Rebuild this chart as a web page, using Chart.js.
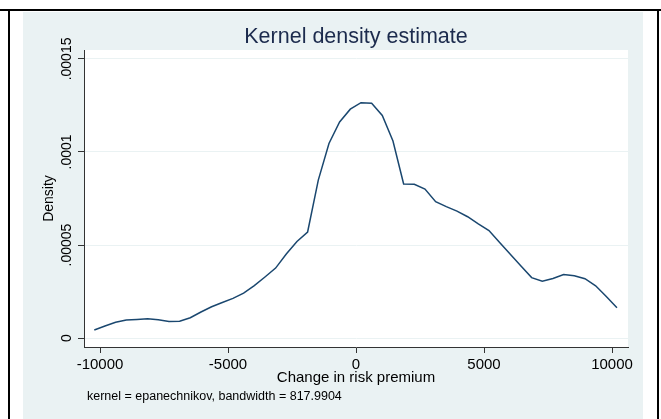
<!DOCTYPE html>
<html>
<head>
<meta charset="utf-8">
<title>Kernel density estimate</title>
<script src="https://cdn.jsdelivr.net/npm/chart.js@4.4.1/dist/chart.umd.min.js"></script>
<style>
  html, body { margin: 0; padding: 0; background: #ffffff; }
  canvas { display: block; }
</style>
</head>
<body>
<canvas id="myChart" width="661" height="419"></canvas>
<script>
// evaluation points of the density (x) and estimated density (y)
var premiumChange = [
  -10223, -9806, -9390, -8973, -8556, -8140, -7723, -7306, -6890, -6473,
  -6056, -5640, -5223, -4806, -4390, -3973, -3556, -3140, -2723, -2306,
  -1890, -1473, -1056, -640, -223, 194, 611, 1027, 1444, 1861,
  2277, 2694, 3111, 3527, 3944, 4361, 4777, 5194, 5611, 6027,
  6444, 6861, 7277, 7694, 8111, 8527, 8944, 9361, 9777, 10194
];
var density = [
  0.0000043, 0.0000065, 0.0000085, 0.0000097, 0.0000100, 0.0000104, 0.0000098, 0.0000089, 0.0000091, 0.0000109,
  0.0000140, 0.0000168, 0.0000191, 0.0000213, 0.0000241, 0.0000282, 0.0000328, 0.0000376, 0.0000452, 0.0000519,
  0.0000570, 0.0000849, 0.0001046, 0.0001161, 0.0001230, 0.0001265, 0.0001262, 0.0001196, 0.0001059, 0.0000828,
  0.0000826, 0.0000801, 0.0000733, 0.0000706, 0.0000682, 0.0000652, 0.0000613, 0.0000578, 0.0000513, 0.0000450,
  0.0000387, 0.0000325, 0.0000306, 0.0000320, 0.0000342, 0.0000335, 0.0000319, 0.0000281, 0.0000223, 0.0000163
];

var xTicks = [-10000, -5000, 0, 5000, 10000];
var xTickLabels = ["-10000", "-5000", "0", "5000", "10000"];
var yTicks = [0, 0.00005, 0.0001, 0.00015];
var yTickLabels = ["0", ".00005", ".0001", ".00015"];

var chartTitle = "Kernel density estimate";
var xTitle = "Change in risk premium";
var yTitle = "Density";
var noteText = "kernel = epanechnikov, bandwidth = 817.9904";

var fontFamily = "'Liberation Sans', Arial, Helvetica, sans-serif";

var points = [];
for (var i = 0; i < premiumChange.length; i++) {
  points.push({ x: premiumChange[i], y: density[i] });
}

// stata style frame, panel and plot region
var backgroundPlugin = {
  id: "stataBackground",
  beforeDraw: function(chart) {
    var c = chart.ctx, area = chart.chartArea;
    c.save();
    c.fillStyle = "#ffffff";
    c.fillRect(0, 0, chart.width, chart.height);
    c.fillStyle = "#eaf2f3";
    c.fillRect(23, 12, 620, chart.height - 12);
    c.fillStyle = "#ffffff";
    c.fillRect(area.left, area.top, area.right - area.left, area.bottom - area.top);
    // black border lines
    c.fillStyle = "#000000";
    c.fillRect(0, 9, chart.width, 2);
    c.fillRect(8, 9, 2, chart.height - 9);
    c.fillRect(657, 9, 2, chart.height - 9);
    c.restore();
  },
  afterDraw: function(chart) {
    var c = chart.ctx, area = chart.chartArea;
    var yScale = chart.scales.y;
    var midX = (area.left + area.right) / 2;
    c.save();
    // vertical y tick labels
    c.fillStyle = "#000000";
    c.font = "14px " + fontFamily;
    c.textAlign = "center";
    c.textBaseline = "middle";
    for (var i = 0; i < yTicks.length; i++) {
      var py = yScale.getPixelForValue(yTicks[i]);
      c.save();
      c.translate(67, py);
      c.rotate(-Math.PI / 2);
      c.fillText(yTickLabels[i], 0, 0);
      c.restore();
    }
    // y axis title
    c.save();
    c.translate(49, (area.top + area.bottom) / 2);
    c.rotate(-Math.PI / 2);
    c.fillText(yTitle, 0, 0);
    c.restore();
    // main title
    c.textBaseline = "alphabetic";
    c.fillStyle = "#1c2b4d";
    c.font = "21.5px " + fontFamily;
    c.fillText(chartTitle, midX, 43);
    // x axis title
    c.fillStyle = "#000000";
    c.font = "15px " + fontFamily;
    c.fillText(xTitle, midX, 382);
    // note
    c.textAlign = "left";
    c.font = "12.5px " + fontFamily;
    c.fillText(noteText, 87, 400);
    c.restore();
  }
};

var ctx = document.getElementById("myChart").getContext("2d");
var myChart = new Chart(ctx, {
  type: "line",
  data: {
    datasets: [{
      label: "Density",
      data: points,
      borderColor: "#1a476f",
      borderWidth: 1.5,
      pointRadius: 0,
      tension: 0,
      fill: false
    }]
  },
  options: {
    responsive: false,
    animation: false,
    devicePixelRatio: 1,
    layout: { padding: { left: 0, top: 50, right: 33, bottom: 0 } },
    plugins: {
      legend: { display: false },
      title: { display: false },
      tooltip: { enabled: false }
    },
    scales: {
      x: {
        type: "linear",
        min: -10625,
        max: 10625,
        afterBuildTicks: function(scale) {
          scale.ticks = xTicks.map(function(v) { return { value: v }; });
        },
        afterFit: function(scale) { scale.height = 72; },
        grid: {
          drawOnChartArea: false,
          drawTicks: true,
          tickLength: 6,
          tickColor: "#333333"
        },
        border: { color: "#333333", width: 1 },
        ticks: {
          padding: 3,
          maxRotation: 0,
          color: "#000000",
          font: { family: fontFamily, size: 15 },
          callback: function(value, index) { return xTickLabels[index]; }
        }
      },
      y: {
        type: "linear",
        min: -0.0000048,
        max: 0.0001548,
        afterBuildTicks: function(scale) {
          scale.ticks = yTicks.map(function(v) { return { value: v }; });
        },
        afterFit: function(scale) { scale.width = 84; },
        grid: {
          color: "#eaf2f3",
          lineWidth: 1,
          drawTicks: true,
          tickLength: 6,
          tickColor: "#333333"
        },
        border: { color: "#333333", width: 1 },
        ticks: { display: false }
      }
    }
  },
  plugins: [backgroundPlugin]
});
</script>
</body>
</html>
